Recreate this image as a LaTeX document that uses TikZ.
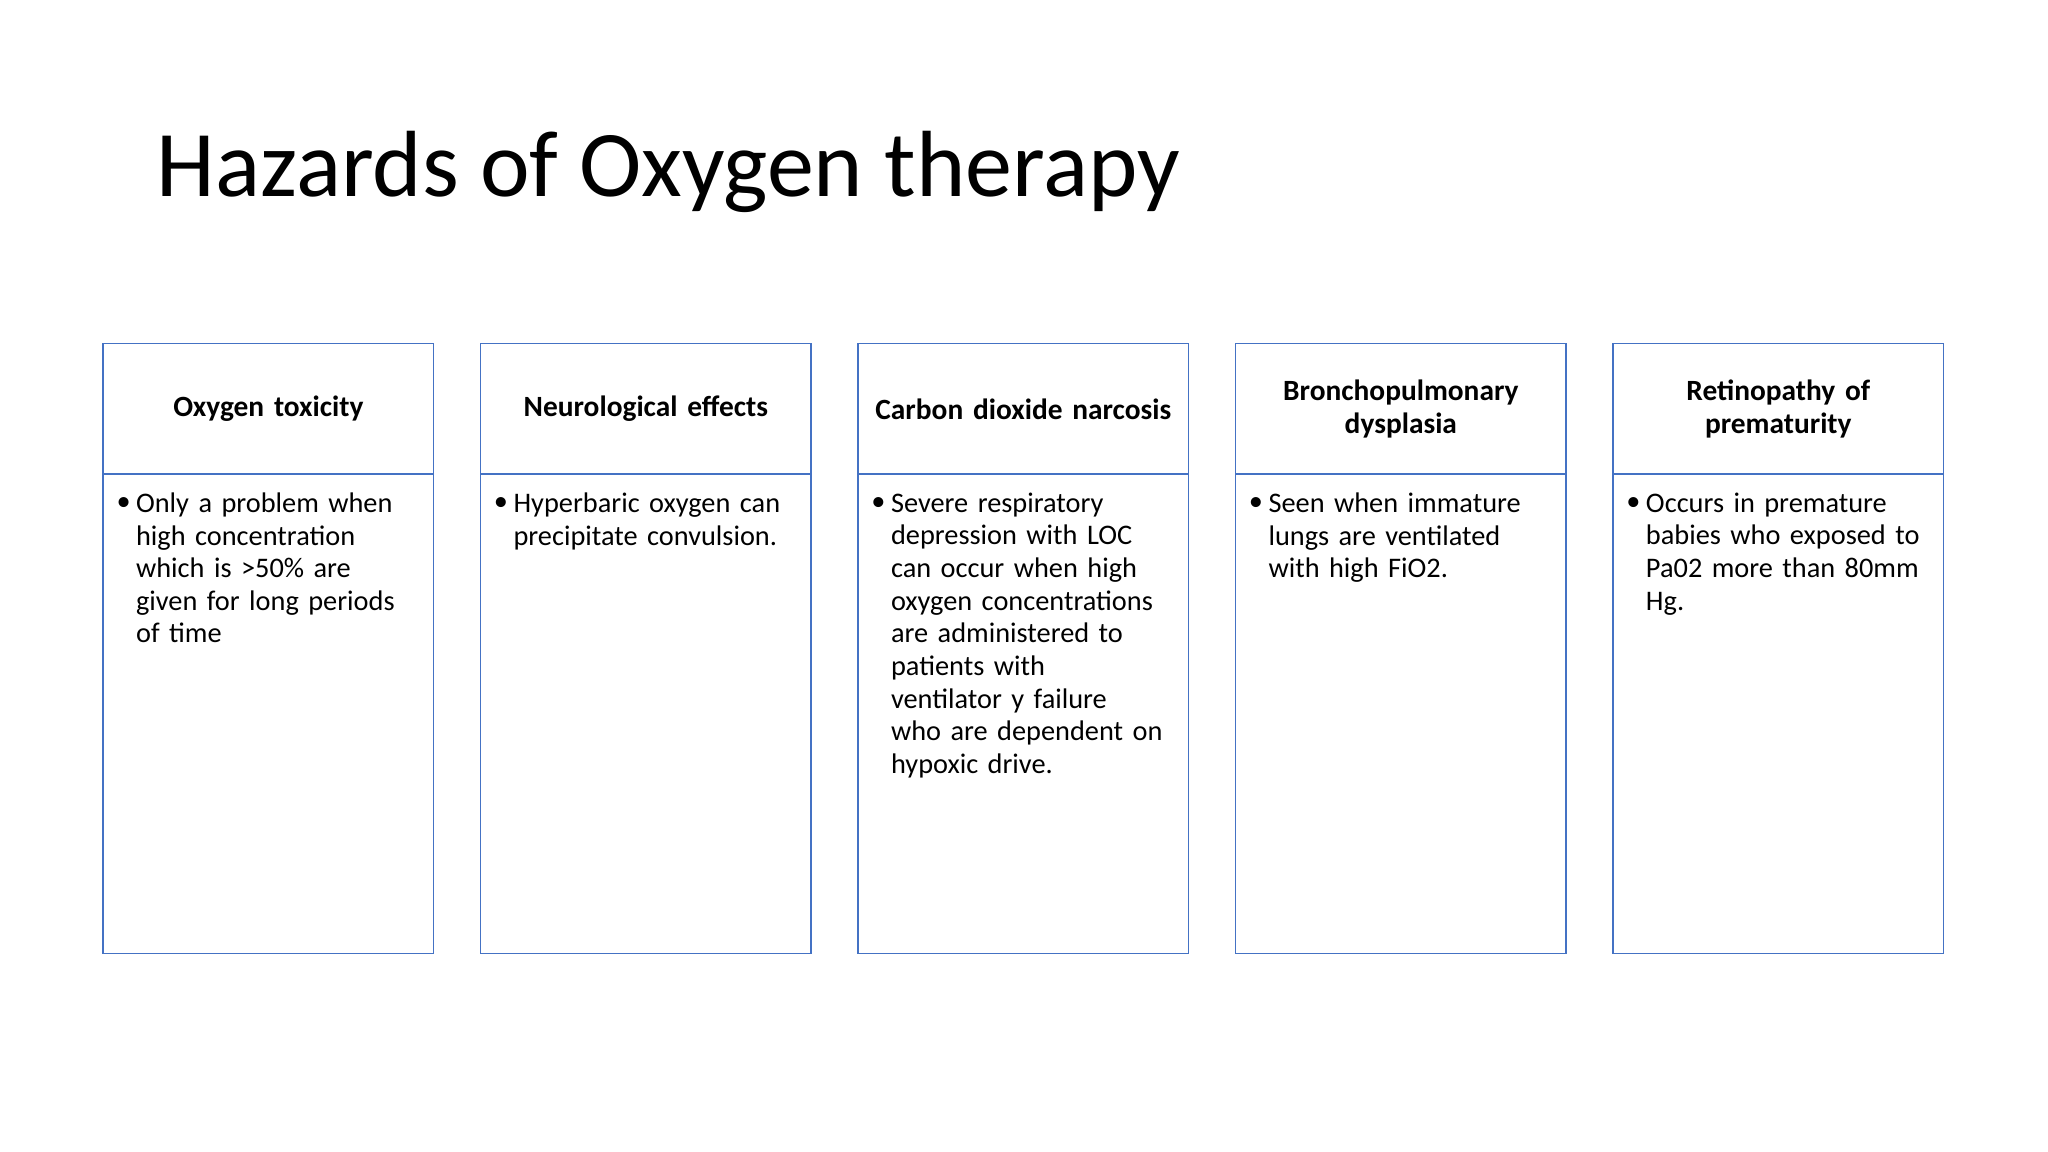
\documentclass[tikz,border=0pt]{standalone}
\usepackage{fontspec}
\setmainfont{Carlito}
\begin{document}
\begin{tikzpicture}[x=1pt,y=-1pt,
  boxline/.style={draw={rgb,255:red,68;green,114;blue,196}, line width=1.2pt},
  head/.style={font=\fontsize{22.5}{25}\selectfont\bfseries, align=center, text width=240pt},
  body/.style={font=\fontsize{21.7}{25}\selectfont, align=left, text width=232pt, anchor=north west, inner sep=0pt},
  bul/.style={font=\fontsize{21.7}{25}\selectfont, anchor=north west, inner sep=0pt}]
\useasboundingbox (0,0) rectangle (1568,882);
\node[anchor=west, font=\fontsize{72}{76}\selectfont, inner sep=0pt] (title) at (120,132) {Hazards of Oxygen therapy};
\foreach \x/\n/\h/\b in {
 79/a/{Oxygen toxicity}/{Only a problem when\\high concentration\\which is >50\% are\\given for long periods\\of time},
 368/b/{Neurological effects}/{Hyperbaric oxygen can\\precipitate convulsion.},
 657/c/{Carbon dioxide narcosis}/{Severe respiratory\\depression with LOC\\can occur when high\\oxygen concentrations\\are administered to\\patients with\\ventilator y failure\\who are dependent on\\hypoxic drive.},
 946/d/{Bronchopulmonary\\dysplasia}/{Seen when immature\\lungs are ventilated\\with high FiO2.},
 1235/e/{Retinopathy of\\prematurity}/{Occurs in premature\\babies who exposed to\\Pa02 more than 80mm\\Hg.}}{
  \draw[boxline] (\x,263) rectangle ++(253,100);
  \draw[boxline] (\x,363) rectangle ++(253,367);
  \node[head] (h\n) at (\x+126.5,313) {\h};
  \node[bul] (u\n) at (\x+10,381) {•};
  \node[body] (t\n) at (\x+25,377) {\b};
}
\end{tikzpicture}
\end{document}
